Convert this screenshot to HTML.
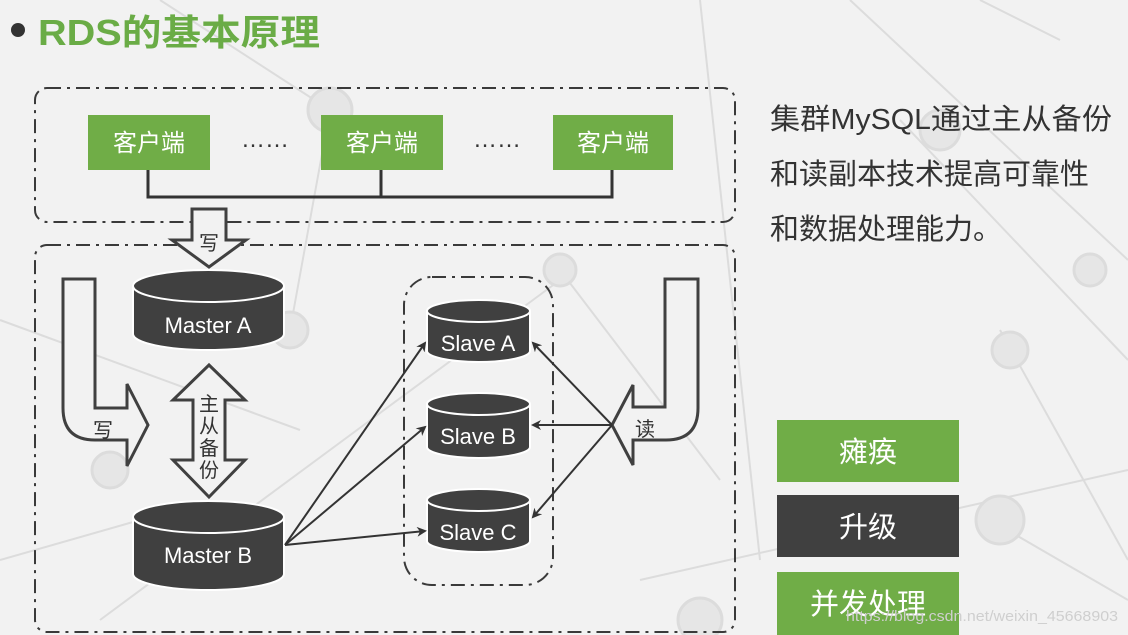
<!DOCTYPE html>
<html><head><meta charset="utf-8"><style>
html,body{margin:0;padding:0;}
body{width:1128px;height:635px;overflow:hidden;background:#f2f2f2;}
svg{display:block;}
text{font-family:"Liberation Sans","Noto Sans CJK SC",sans-serif;}
</style></head><body>
<svg width="1128" height="635" viewBox="0 0 1128 635">
<rect width="1128" height="635" fill="#f2f2f2"/>
<g stroke="#dcdcdc" stroke-width="2" fill="none">
<line x1="160" y1="0" x2="330" y2="110"/><line x1="330" y1="110" x2="290" y2="330"/>
<line x1="0" y1="320" x2="300" y2="430"/><line x1="100" y1="620" x2="560" y2="280"/>
<line x1="560" y1="270" x2="720" y2="480"/><line x1="700" y1="0" x2="760" y2="560"/>
<line x1="640" y1="580" x2="1128" y2="470"/><line x1="850" y1="0" x2="1128" y2="260"/>
<line x1="900" y1="120" x2="1128" y2="360"/><line x1="1000" y1="330" x2="1128" y2="560"/>
<line x1="980" y1="0" x2="1060" y2="40"/><line x1="0" y1="560" x2="140" y2="520"/>
<line x1="990" y1="520" x2="1128" y2="600"/>
</g>
<g stroke="#dcdcdc" stroke-width="3" fill="#e6e6e6">
<circle cx="330" cy="110" r="22"/><circle cx="290" cy="330" r="18"/><circle cx="560" cy="270" r="16"/>
<circle cx="1010" cy="350" r="18"/><circle cx="1000" cy="520" r="24"/><circle cx="1090" cy="270" r="16"/>
<circle cx="940" cy="130" r="20"/><circle cx="110" cy="470" r="18"/><circle cx="700" cy="620" r="22"/>
</g>
<circle cx="18" cy="30" r="7" fill="#333"/>
<text x="38" y="45" font-size="36" font-weight="bold" fill="#6aac46" textLength="282" lengthAdjust="spacingAndGlyphs">RDS的基本原理</text>
<g fill="none" stroke="#3a3a3a" stroke-width="2" stroke-dasharray="14,6,3,6">
<rect x="35" y="88" width="700" height="134" rx="12"/>
<rect x="35" y="245" width="700" height="387" rx="12"/>
<rect x="404" y="277" width="149" height="308" rx="28"/>
</g>
<g fill="#70ad47">
<rect x="88" y="115" width="122" height="55"/>
<rect x="321" y="115" width="122" height="55"/>
<rect x="553" y="115" width="120" height="55"/>
</g>
<g font-size="24" fill="#fff" text-anchor="middle">
<text x="149" y="151">客户端</text><text x="382" y="151">客户端</text><text x="613" y="151">客户端</text>
</g>
<g font-size="24" fill="#333" text-anchor="middle">
<text x="265" y="147">……</text><text x="497" y="147">……</text>
</g>
<path d="M148,170 V197 H612 V170 M381,170 V197" fill="none" stroke="#333" stroke-width="3"/>
<path d="M192,209 H226 V240 H246 L209,267 L172,240 H192 Z" fill="#f2f2f2" stroke="#404040" stroke-width="3"/>
<text x="209" y="250" font-size="20" fill="#333" text-anchor="middle">写</text>
<path d="M63,279 L95,279 L95,408 L127,408 L127,384 L148,425 L127,466 L127,440 L95,440 Q63,440 63,408 Z" fill="#f2f2f2" stroke="#404040" stroke-width="3"/>
<text x="103" y="437" font-size="20" fill="#333" text-anchor="middle">写</text>
<path d="M209,365 L245,400 H225 V460 H245 L209,497 L173,460 H193 V400 H173 Z" fill="#f2f2f2" stroke="#404040" stroke-width="3"/>
<g font-size="20" fill="#333" text-anchor="middle">
<text x="209" y="411">主</text><text x="209" y="433">从</text><text x="209" y="455">备</text><text x="209" y="477">份</text>
</g>
<path d="M665,279 L698,279 L698,408 Q698,440 666,440 L633,440 L633,465 L612,425 L633,385 L633,407 L665,407 Z" fill="#f2f2f2" stroke="#404040" stroke-width="3"/>
<text x="645" y="436" font-size="20" fill="#333" text-anchor="middle">读</text>
<defs>
<marker id="ah" markerWidth="10" markerHeight="10" refX="8" refY="5" orient="auto" markerUnits="userSpaceOnUse">
<path d="M0,0 L10,5 L0,10 L3,5 Z" fill="#333"/></marker>
</defs>
<g stroke="#fff" stroke-width="2" fill="#404040">
<path d="M133,286 V334 A75.5,16 0 0 0 284,334 V286"/>
<ellipse cx="208.5" cy="286" rx="75.5" ry="16"/>
<path d="M133,517 V574 A75.5,16 0 0 0 284,574 V517"/>
<ellipse cx="208.5" cy="517" rx="75.5" ry="16"/>
<path d="M427,311 V351 A51.5,11 0 0 0 530,351 V311"/>
<ellipse cx="478.5" cy="311" rx="51.5" ry="11"/>
<path d="M427,404 V447 A51.5,11 0 0 0 530,447 V404"/>
<ellipse cx="478.5" cy="404" rx="51.5" ry="11"/>
<path d="M427,500 V541 A51.5,11 0 0 0 530,541 V500"/>
<ellipse cx="478.5" cy="500" rx="51.5" ry="11"/>
</g>
<g font-size="22" fill="#fff" text-anchor="middle">
<text x="208" y="333">Master A</text><text x="208" y="563">Master B</text>
<text x="478" y="351">Slave A</text><text x="478" y="444">Slave B</text><text x="478" y="540">Slave C</text>
</g>
<g stroke="#333" stroke-width="2" marker-end="url(#ah)">
<line x1="285" y1="545" x2="425" y2="343"/>
<line x1="285" y1="545" x2="425" y2="427"/>
<line x1="285" y1="545" x2="425" y2="531"/>
<line x1="612" y1="425" x2="533" y2="343"/>
<line x1="612" y1="425" x2="533" y2="425"/>
<line x1="612" y1="425" x2="533" y2="517"/>
</g>
<g font-size="29" fill="#333">
<text x="770" y="129" textLength="342" lengthAdjust="spacingAndGlyphs">集群MySQL通过主从备份</text>
<text x="770" y="184">和读副本技术提高可靠性</text>
<text x="770" y="239">和数据处理能力。</text>
</g>
<rect x="777" y="420" width="182" height="62" fill="#70ad47"/>
<rect x="777" y="495" width="182" height="62" fill="#404040"/>
<rect x="777" y="572" width="182" height="63" fill="#70ad47"/>
<g font-size="29" fill="#fff" text-anchor="middle">
<text x="868" y="462">瘫痪</text><text x="868" y="537">升级</text><text x="868" y="614">并发处理</text>
</g>
<text x="846" y="621" font-size="15" fill="#cfcfcf" textLength="272" lengthAdjust="spacingAndGlyphs">https://blog.csdn.net/weixin_45668903</text>
</svg>
</body></html>
